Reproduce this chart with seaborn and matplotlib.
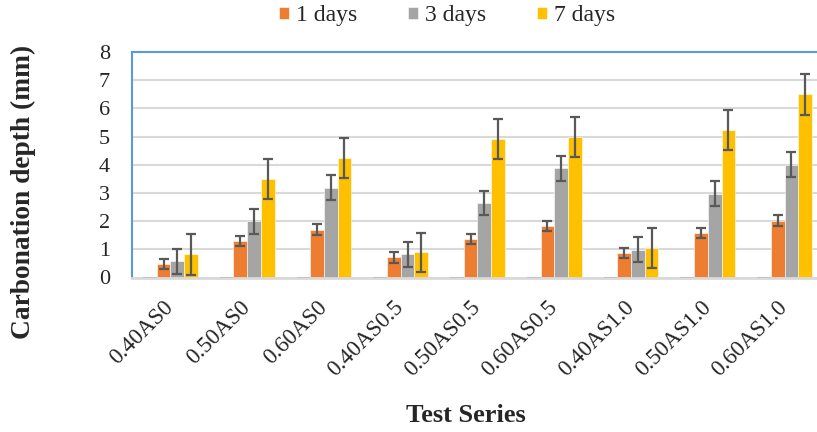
import matplotlib
matplotlib.use("Agg")
import matplotlib.pyplot as plt
import numpy as np
import pandas as pd
import seaborn as sns

series = ["0.40AS0", "0.50AS0", "0.60AS0", "0.40AS0.5", "0.50AS0.5",
          "0.60AS0.5", "0.40AS1.0", "0.50AS1.0", "0.60AS1.0"]
ages = ["0 days", "1 days", "3 days", "7 days"]  # first one is an all-zero series in the source chart

depth_0d = [0.0] * 9
depth_1d = [0.49, 1.30, 1.70, 0.71, 1.38, 1.83, 0.86, 1.57, 2.02]
depth_3d = [0.57, 2.00, 3.19, 0.82, 2.65, 3.88, 0.99, 2.98, 4.00]
depth_7d = [0.82, 3.51, 4.24, 0.89, 4.92, 4.98, 1.05, 5.24, 6.50]

err_1d = [0.18, 0.18, 0.19, 0.18, 0.18, 0.18, 0.18, 0.18, 0.18]
err_3d = [0.44, 0.44, 0.44, 0.44, 0.43, 0.44, 0.44, 0.44, 0.44]
err_7d = [0.73, 0.71, 0.70, 0.70, 0.71, 0.72, 0.72, 0.71, 0.72]

colors = ["#bfbfbf", "#ed7d31", "#a5a5a5", "#ffc000"]

df = pd.DataFrame({
    "series": series * 4,
    "age": np.repeat(ages, len(series)),
    "depth": depth_0d + depth_1d + depth_3d + depth_7d,
})

sns.set_style("white")
plt.rcParams["font.family"] = ["Liberation Serif", "DejaVu Serif"]

fig = plt.figure(figsize=(8.17, 4.32), dpi=100)
ax = fig.add_axes([132 / 817, 154.5 / 432, 1 - 132 / 817, 225.5 / 432])

sns.barplot(data=df, x="series", y="depth", hue="age", hue_order=ages,
            order=series, palette=colors, saturation=1, width=0.714, gap=0,
            errorbar=None, legend=False, edgecolor="white", linewidth=0.4,
            ax=ax)

# zero series shows as a thin grey segment on the baseline
for p in ax.containers[0]:
    p.set_edgecolor("#c4c4c4")
    p.set_linewidth(1.5)
    p.set_zorder(3)

for cont, errs in zip(ax.containers[1:], [err_1d, err_3d, err_7d]):
    xs = [p.get_x() + p.get_width() / 2 for p in cont]
    hs = [p.get_height() for p in cont]
    ax.errorbar(xs, hs, yerr=errs, fmt="none", ecolor="#595959",
                elinewidth=1.6, capsize=3.8, capthick=1.6, zorder=5)

ax.set_xlim(-0.5, (817 - 170.6) / 76.75)
ax.set_ylim(0, 8)
ax.set_yticks(range(0, 9))
ax.yaxis.grid(True, color="#d9d9d9", linewidth=1.5)
ax.set_axisbelow(True)

for side in ["left", "top"]:
    ax.spines[side].set_color("#5b9bd5")
    ax.spines[side].set_linewidth(1.5)
ax.spines["right"].set_visible(False)
ax.spines["bottom"].set_color("#d9d9d9")
ax.spines["bottom"].set_linewidth(2)

ax.tick_params(axis="both", length=0)
ax.tick_params(axis="y", pad=16, labelsize=16)
ax.tick_params(axis="x", pad=19, labelsize=16.5)
for lbl in ax.get_xticklabels():
    lbl.set_rotation(45)
    lbl.set_ha("right")
    lbl.set_va("center")
    lbl.set_rotation_mode("anchor")

ax.set_xlabel("")
ax.set_ylabel("")
fig.text(466 / 817, 1 - 416 / 432, "Test Series", ha="center", va="center",
         fontsize=19, fontweight="bold")
fig.text(23 / 817, 1 - 191.5 / 432, "Carbonation depth (mm)", ha="center",
         va="center", rotation=90, fontsize=19.7, fontweight="bold")

fig.legend(ax.containers[1:], ages[1:], loc="center",
           bbox_to_anchor=(0.547, 0.963), ncol=3, frameon=False, fontsize=17,
           handlelength=0.43, handleheight=0.43, handletextpad=0.3,
           columnspacing=2.15)

fig.savefig("out.png", dpi=100)
